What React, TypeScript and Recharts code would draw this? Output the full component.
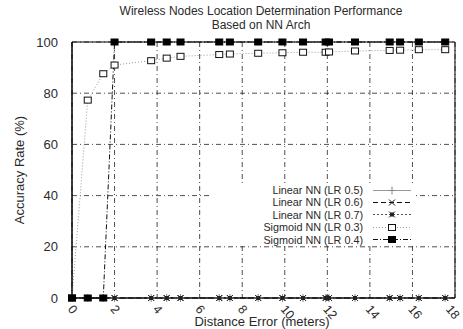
import React from 'react';
import { LineChart, Line, XAxis, YAxis, CartesianGrid, ReferenceArea } from 'recharts';

// distance error (meters) of each sample point
const distances = [0, 0.74, 1.47, 2.0, 3.72, 4.45, 5.1, 6.92, 7.42, 8.75, 9.89, 10.86, 11.92, 12.08, 13.3, 14.93, 15.42, 16.3, 17.54];

// accuracy rate (%) per series
const linear05 = [0, 0, 0, 0, 0, 0, 0, 0, 0, 0, 0, 0, 0, 0, 0, 0, 0, 0, 0];
const linear06 = [0, 0, 0, 0, 0, 0, 0, 0, 0, 0, 0, 0, 0, 0, 0, 0, 0, 0, 0];
const linear07 = [0, 0, 0, 0, 0, 0, 0, 0, 0, 0, 0, 0, 0, 0, 0, 0, 0, 0, 0];
const sigmoid03 = [0, 77.3, 87.6, 91.0, 92.7, 93.7, 94.4, 95.1, 95.3, 95.6, 95.8, 96.0, 96.0, 96.1, 96.5, 96.7, 96.8, 97.0, 97.0];
const sigmoid04 = [0, 0, 0, 100, 100, 100, 100, 100, 100, 100, 100, 100, 100, 100, 100, 100, 100, 100, 100];

const xTicks = [0, 2, 4, 6, 8, 10, 12, 14, 16, 18];
const yTicks = [0, 20, 40, 60, 80, 100];

const FONT = '"Liberation Sans", Arial, sans-serif';
const TEXT = '#2a2a2a';

type Marker = 'plus' | 'cross' | 'star' | 'open' | 'filled';

const drawMarker = (m: Marker, cx: number, cy: number, key?: React.Key) => {
  switch (m) {
    case 'plus':
      return <path key={key} d={`M${cx - 4},${cy}h8M${cx},${cy - 4}v8`} stroke="#888" strokeWidth={1} fill="none" />;
    case 'cross':
      return <path key={key} d={`M${cx - 3},${cy - 3}l6,6M${cx - 3},${cy + 3}l6,-6`} stroke="#111" strokeWidth={1} fill="none" />;
    case 'star':
      return (
        <g key={key}>
          <path d={`M${cx - 3},${cy - 3}l6,6M${cx - 3},${cy + 3}l6,-6`} stroke="#333" strokeWidth={1} fill="none" />
          <rect x={cx - 2} y={cy - 2} width={4} height={4} fill="#222" />
        </g>
      );
    case 'open':
      return <rect key={key} x={cx - 3.5} y={cy - 3} width={7} height={6} fill="#fff" stroke="#111" strokeWidth={1} />;
    default:
      return <rect key={key} x={cx - 3.5} y={cy - 3} width={7} height={6} fill="#000" stroke="#000" strokeWidth={1} />;
  }
};

const series = [
  { name: 'Linear NN (LR 0.5)', values: linear05, stroke: '#999', dash: undefined, marker: 'plus' as Marker },
  { name: 'Linear NN (LR 0.6)', values: linear06, stroke: '#111', dash: '5 3', marker: 'cross' as Marker },
  { name: 'Linear NN (LR 0.7)', values: linear07, stroke: '#555', dash: '2 2', marker: 'star' as Marker },
  { name: 'Sigmoid NN (LR 0.3)', values: sigmoid03, stroke: '#999', dash: '1 2', marker: 'open' as Marker },
  { name: 'Sigmoid NN (LR 0.4)', values: sigmoid04, stroke: '#111', dash: '5 2 1 2', marker: 'filled' as Marker },
];

const XTick = (props: any) => {
  const { x, y, payload } = props;
  // keep the last label inside the window
  const shift = x + 11 > 461 ? 461 - (x + 11) : 0;
  return (
    <g transform={`translate(${x - 2 + shift},${y + 7})`}>
      <text transform="rotate(50)" textAnchor="start" dy="0.3em" fontSize={12.5} fontFamily={FONT} fill={TEXT}>
        {payload.value}
      </text>
    </g>
  );
};

const LegendBox = () => (
  <div style={{ position: 'absolute', left: 212, top: 184, width: 203, height: 62, background: '#fff', fontFamily: FONT, fontSize: 10.8, color: TEXT }}>
    {series.map((s) => (
      <div key={s.name} style={{ display: 'flex', justifyContent: 'flex-end', alignItems: 'center', height: 12.4, lineHeight: '12.4px' }}>
        <span>{s.name}</span>
        <svg width={46} height={11} style={{ marginLeft: 6 }}>
          <line x1={4} y1={5.5} x2={42} y2={5.5} stroke={s.stroke} strokeDasharray={s.dash} strokeWidth={1} />
          {drawMarker(s.marker, 23, 5.5)}
        </svg>
      </div>
    ))}
  </div>
);

export default function App() {
  return (
    <div style={{ position: 'absolute', left: 0, top: 0, width: 463, height: 329, background: '#fff' }}>
      <LineChart width={463} height={329} margin={{ top: 42, right: 8, bottom: 0, left: 0 }}>
        <CartesianGrid stroke="#222" strokeWidth={0.8} strokeDasharray="5 3 1 3" />
        <XAxis
          dataKey="x"
          type="number"
          domain={[0, 18]}
          ticks={xTicks}
          height={31}
          tickLine={false}
          tickSize={0}
          axisLine={{ stroke: '#000' }}
          tick={<XTick />}
          allowDuplicatedCategory={false}
        />
        <YAxis
          type="number"
          domain={[0, 100]}
          ticks={yTicks}
          width={72}
          tickLine={false}
          tickMargin={8}
          axisLine={{ stroke: '#000' }}
          tick={{ fontSize: 13, fontFamily: FONT, fill: TEXT }}
        />
        {series.map((s) => (
          <Line
            key={s.name}
            name={s.name}
            data={distances.map((d, i) => ({ x: d, y: s.values[i] }))}
            dataKey="y"
            type="linear"
            stroke={s.stroke}
            strokeWidth={1}
            strokeDasharray={s.dash}
            dot={(p: any) => drawMarker(s.marker, p.cx, p.cy, p.index)}
            activeDot={false}
            isAnimationActive={false}
          />
        ))}
        <ReferenceArea x1={0} x2={18} y1={0} y2={100} fill="none" stroke="#000" strokeWidth={1} ifOverflow="visible" />
      </LineChart>
      <div style={{ position: 'absolute', left: 0, top: 4, width: 522, textAlign: 'center', fontFamily: FONT, fontSize: 12, lineHeight: '14px', color: TEXT }}>
        Wireless Nodes Location Determination Performance
        <br />
        Based on NN Arch
      </div>
      <div style={{ position: 'absolute', left: 19, top: 170, transform: 'translate(-50%,-50%) rotate(-90deg)', whiteSpace: 'nowrap', fontFamily: FONT, fontSize: 13, color: TEXT }}>
        Accuracy Rate (%)
      </div>
      <div style={{ position: 'absolute', left: 262, top: 321, transform: 'translate(-50%,-50%)', whiteSpace: 'nowrap', fontFamily: FONT, fontSize: 13, color: TEXT }}>
        Distance Error (meters)
      </div>
      <LegendBox />
    </div>
  );
}
